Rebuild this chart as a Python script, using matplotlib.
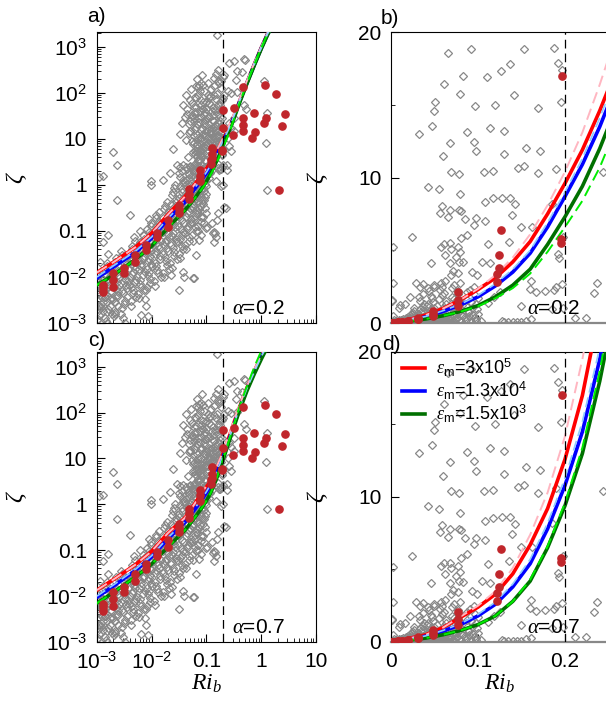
import numpy as np
import matplotlib
matplotlib.use('Agg')
import matplotlib.pyplot as plt
from matplotlib.ticker import FixedLocator, FixedFormatter, LogLocator, NullFormatter, MultipleLocator

plt.rcParams['font.family'] = ['Liberation Sans', 'DejaVu Sans']
plt.rcParams['mathtext.fontset'] = 'custom'
plt.rcParams['mathtext.rm'] = 'Liberation Sans'
plt.rcParams['mathtext.it'] = 'Liberation Serif:italic'
plt.rcParams['mathtext.bf'] = 'Liberation Sans:bold'

# ---------------- data ----------------
ri_crit = 0.2

# gray points seen in the linear panels (zeta 2..20)
lin_ri = [0.0655, 0.0923, 0.1525, 0.187, 0.1923, 0.197, 0.137, 0.127, 0.110, 0.0824,
          0.061, 0.0797, 0.141, 0.0506, 0.0494, 0.0962, 0.12, 0.1686, 0.1958, 0.0475,
          0.0322, 0.0877, 0.114, 0.130, 0.0682, 0.095, 0.0973, 0.060, 0.130, 0.155,
          0.171, 0.0693, 0.0785, 0.107, 0.117, 0.146, 0.153, 0.1686, 0.190,
          0.0425, 0.0548, 0.0793, 0.1077, 0.1176, 0.1276, 0.137, 0.142, 0.059, 0.068,
          0.078, 0.0808, 0.056, 0.0659, 0.0847, 0.0977, 0.1077, 0.139, 0.095, 0.150,
          0.162, 0.0874, 0.081, 0.024, 0.0605, 0.057, 0.0674, 0.077, 0.111, 0.136,
          0.002, 0.069, 0.0797, 0.075, 0.0624, 0.0456, 0.068, 0.078, 0.083, 0.105,
          0.114, 0.192, 0.193, 0.071, 0.077, 0.069, 0.0935, 0.099, 0.0617, 0.058,
          0.050, 0.0368, 0.029, 0.079, 0.0023, 0.161, 0.1966, 0.19, 0.237, 0.167,
          0.1767, 0.187, 0.233, 0.0011, 0.224, 0.145, 0.161]
lin_zeta = [18.56, 18.83, 18.8, 18.9, 17.9, 17.4, 17.8, 17.3, 16.9, 17.0,
            16.4, 15.76, 15.65, 15.19, 14.6, 14.9, 15.0, 14.8, 15.2, 13.56,
            13.0, 13.1, 13.4, 13.2, 12.4, 12.46, 11.8, 11.46, 11.6, 12.05,
            11.84, 10.4, 10.26, 10.4, 10.47, 10.67, 10.8, 10.3, 10.6,
            9.37, 9.2, 8.9, 8.34, 8.57, 8.6, 8.6, 8.16, 8.06, 7.8,
            7.76, 7.7, 7.58, 7.26, 7.17, 7.2, 7.03, 7.44, 6.74, 6.58,
            6.58, 6.05, 5.82, 5.9, 5.43, 5.24, 5.48, 5.24, 5.4, 5.59,
            5.2, 5.09, 4.86, 4.56, 4.67, 4.1, 4.1, 4.2, 4.17, 4.2,
            4.1, 4.74, 4.45, 3.57, 3.46, 3.3, 3.53, 3.3, 2.89, 2.73,
            2.6, 2.66, 2.73, 2.73, 2.73, 2.89, 2.68, 2.45, 2.73, 2.15,
            2.2, 2.27, 2.08, 1.5, 0.32, 0.09, 0.25]

# gray points seen only in the log panels (large zeta or Ri > 0.25)
hi_ri = [0.156, 0.262, 0.323, 0.475, 0.51, 0.368, 0.45, 0.347, 0.198, 0.212,
         0.185, 0.165, 0.244, 0.28, 0.212, 0.198, 0.36, 0.49, 0.53, 1.13,
         1.3, 1.22, 0.323, 0.262, 0.28, 0.323, 0.244, 0.262, 0.28, 0.185,
         0.198, 0.16, 0.149, 0.185, 0.074, 0.065, 0.08, 0.105, 0.113, 0.0427,
         0.0605, 0.065, 0.071, 0.058, 0.0605, 0.082, 0.057, 0.155, 0.212, 0.198,
         1.3, 0.14, 0.13, 0.15, 0.135, 0.098, 0.08, 0.074, 0.065, 0.06]
hi_zeta = [1853, 449, 489, 548, 520, 295, 282, 195, 219, 250,
           181, 184, 109, 100, 92, 78, 104, 55.7, 43.7, 181,
           36.7, 8.2, 28.6, 22.3, 17.4, 14.7, 10.4, 6.9, 5.4, 8.2,
           5.9, 2.34, 1.2, 0.93, 151, 77.8, 70, 92, 77.8, 91.9,
           80.7, 140, 132, 48.9, 38.6, 44.8, 31, 0.173, 0.34, 1.0,
           0.78, 0.097, 0.089, 0.075, 0.058, 0.114, 0.082, 0.063, 0.030, 0.0095]

mid_ri = [0.05, 0.055, 0.062, 0.07, 0.075, 0.085, 0.09, 0.1, 0.11, 0.12,
          0.13, 0.14, 0.15, 0.16, 0.17, 0.18, 0.19, 0.095, 0.105, 0.115,
          0.125, 0.135, 0.145, 0.155, 0.165, 0.175, 0.185, 0.088, 0.078, 0.068,
          0.045, 0.13, 0.15, 0.17, 0.19, 0.12, 0.1, 0.14, 0.16, 0.18,
          0.035, 0.04, 0.045, 0.05, 0.055, 0.06, 0.065, 0.07, 0.075, 0.08,
          0.085, 0.09, 0.095, 0.1, 0.038, 0.052, 0.068, 0.083, 0.058, 0.072,
          0.092, 0.105, 0.11, 0.125, 0.14, 0.16, 0.175, 0.195, 0.048, 0.078]
mid_zeta = [25, 60, 35, 28, 110, 45, 22, 65, 30, 120,
            48, 24, 75, 35, 160, 55, 28, 38, 160, 85,
            26, 210, 40, 95, 22, 65, 130, 150, 55, 21,
            35, 33, 260, 42, 70, 55, 27, 140, 320, 30,
            22, 30, 45, 70, 33, 24, 50, 90, 40, 30,
            65, 110, 26, 45, 55, 120, 200, 250, 28, 23,
            35, 28, 60, 40, 90, 55, 25, 40, 21, 160]

# isolated points around the cloud
out_ri = [0.0023, 0.004, 0.0016, 0.0013, 0.0016, 0.0015, 0.00113, 0.00105, 0.00113, 0.0014,
          0.0013, 0.00185, 0.001, 0.0015, 0.0021, 0.003, 0.0032, 0.0065, 0.0086, 0.008,
          0.0075, 0.037, 0.0397, 0.056, 0.032, 0.0228, 0.0013, 0.022, 0.016, 0.0099, 0.0096]
out_zeta = [0.47, 0.22, 0.082, 0.058, 0.031, 0.0199, 0.0215, 0.0044, 0.0023, 0.0037,
            0.0018, 0.0016, 0.00116, 0.001, 0.0016, 0.00126, 0.001, 0.0015, 0.0014, 0.0023,
            0.0034, 0.013, 0.0101, 0.0094, 0.0052, 0.011, 1.6, 1.82, 1.3, 1.24, 1.0]

# dense cloud along the curves
dense_ri = [0.00105, 0.0011, 0.0012, 0.00102, 0.00125, 0.0011, 0.0013, 0.00115, 0.00105, 0.0012,
            0.0014, 0.0016, 0.0015, 0.0017, 0.0014, 0.0018, 0.0016, 0.0015, 0.0017, 0.0014,
            0.0021, 0.0024, 0.002, 0.0023, 0.0022, 0.0025, 0.002, 0.0024, 0.0022, 0.0021,
            0.0029, 0.0033, 0.003, 0.0035, 0.0028, 0.0032, 0.0034, 0.003, 0.0033, 0.0029,
            0.0041, 0.0046, 0.0043, 0.0049, 0.004, 0.0045, 0.0048, 0.0042, 0.0047, 0.0044, 0.0049,
            0.0056, 0.0065, 0.006, 0.0068, 0.0058, 0.0063, 0.007, 0.0057, 0.0066, 0.0061, 0.0069,
            0.0082, 0.0095, 0.0088, 0.01, 0.0084, 0.0092, 0.0098, 0.0086, 0.009, 0.0096, 0.0083, 0.0099,
            0.0112, 0.013, 0.012, 0.014, 0.0115, 0.0135, 0.0125, 0.011, 0.0138, 0.0118, 0.0132, 0.0122,
            0.016, 0.019, 0.0175, 0.02, 0.0165, 0.0185, 0.0195, 0.017, 0.0188, 0.0162, 0.0198, 0.0178,
            0.022, 0.026, 0.024, 0.028, 0.023, 0.027, 0.025, 0.0225, 0.0265, 0.0245, 0.028, 0.023, 0.026,
            0.031, 0.036, 0.033, 0.038, 0.03, 0.035, 0.032, 0.037, 0.034, 0.031, 0.036, 0.033, 0.038, 0.032,
            0.041, 0.047, 0.044, 0.05, 0.042, 0.048, 0.045, 0.049, 0.043, 0.046, 0.05, 0.042, 0.047, 0.044,
            0.054, 0.062, 0.058, 0.065, 0.055, 0.06, 0.064, 0.057, 0.061, 0.053, 0.063, 0.059, 0.056,
            0.07, 0.078, 0.074, 0.069, 0.08, 0.072, 0.076, 0.071, 0.079, 0.073, 0.077, 0.07,
            0.086, 0.095, 0.09, 0.1, 0.088, 0.093, 0.098, 0.087, 0.096, 0.091,
            0.112, 0.125, 0.118, 0.104, 0.128]
dense_zeta = [0.0012, 0.0019, 0.0026, 0.0031, 0.0036, 0.0045, 0.0052, 0.0065, 0.008, 0.0098,
              0.0013, 0.002, 0.0028, 0.0033, 0.0042, 0.005, 0.0062, 0.0078, 0.0105, 0.014,
              0.0017, 0.0024, 0.0033, 0.0041, 0.0056, 0.0068, 0.0085, 0.011, 0.015, 0.021,
              0.0021, 0.003, 0.0044, 0.0058, 0.0075, 0.0092, 0.012, 0.016, 0.022, 0.03,
              0.003, 0.0044, 0.006, 0.0078, 0.01, 0.013, 0.017, 0.022, 0.029, 0.04, 0.06,
              0.0042, 0.006, 0.0085, 0.011, 0.015, 0.019, 0.025, 0.032, 0.043, 0.058, 0.08,
              0.006, 0.009, 0.013, 0.017, 0.022, 0.029, 0.037, 0.048, 0.062, 0.082, 0.11, 0.15,
              0.008, 0.012, 0.017, 0.024, 0.032, 0.042, 0.055, 0.07, 0.09, 0.12, 0.16, 0.22,
              0.012, 0.018, 0.027, 0.037, 0.05, 0.065, 0.085, 0.11, 0.14, 0.19, 0.26, 0.35,
              0.02, 0.029, 0.042, 0.058, 0.078, 0.1, 0.14, 0.18, 0.24, 0.32, 0.43, 0.6, 0.85,
              0.032, 0.048, 0.068, 0.095, 0.13, 0.17, 0.23, 0.3, 0.4, 0.52, 0.7, 0.95, 1.3, 1.8,
              0.05, 0.075, 0.11, 0.15, 0.2, 0.27, 0.35, 0.46, 0.6, 0.78, 1.0, 1.3, 1.7, 2.2,
              0.08, 0.12, 0.18, 0.25, 0.34, 0.45, 0.58, 0.75, 0.95, 1.2, 1.5, 1.9, 2.3,
              0.13, 0.2, 0.3, 0.42, 0.55, 0.7, 0.9, 1.1, 1.35, 1.65, 2.0, 2.4,
              0.2, 0.32, 0.48, 0.65, 0.85, 1.05, 1.3, 1.55, 1.9, 2.3,
              1.4, 2.1, 1.8, 0.12, 0.15]

# second pass over the cloud (points between the first ones)
dense2_ri = [0.00108, 0.00118, 0.00128, 0.00112, 0.00122, 0.00101, 0.00127, 0.00109, 0.00119, 0.00103,
             0.00145, 0.00155, 0.00175, 0.00185, 0.00148, 0.00168, 0.00158, 0.00182, 0.00152, 0.00172,
             0.00205, 0.00215, 0.00235, 0.00245, 0.00208, 0.00228, 0.00255, 0.00212, 0.00238, 0.00225,
             0.00275, 0.0031, 0.0036, 0.00285, 0.0034, 0.0037, 0.0031, 0.0027, 0.0036, 0.0032, 0.0028,
             0.0042, 0.0051, 0.0045, 0.0039, 0.0052, 0.0044, 0.005, 0.0041, 0.0046, 0.0052, 0.0043, 0.0048,
             0.0059, 0.0072, 0.0062, 0.0055, 0.0074, 0.0064, 0.0058, 0.0071, 0.0067, 0.0056, 0.0073, 0.006,
             0.0079, 0.0094, 0.0087, 0.0081, 0.0097, 0.0089, 0.0083, 0.0093, 0.01, 0.0085, 0.0091, 0.0097, 0.0088,
             0.0117, 0.0145, 0.0127, 0.0113, 0.0142, 0.0121, 0.0133, 0.0148, 0.0116, 0.0128, 0.0141, 0.0119, 0.0136,
             0.0168, 0.0205, 0.0182, 0.0158, 0.0192, 0.0172, 0.0203, 0.0163, 0.0187, 0.0176, 0.0201, 0.0167, 0.019,
             0.0235, 0.0285, 0.0255, 0.0222, 0.0272, 0.0242, 0.0262, 0.0232, 0.0282, 0.0252, 0.0228, 0.0275, 0.0248, 0.0268,
             0.0325, 0.0375, 0.0305, 0.0355, 0.0338, 0.0392, 0.0318, 0.0362, 0.0345, 0.0385, 0.0312, 0.0352,
             0.0372, 0.0335, 0.0365, 0.0328,
             0.0425, 0.0485, 0.0405, 0.0455, 0.0515, 0.0435, 0.0495, 0.0418, 0.0475, 0.0505, 0.0445, 0.0412,
             0.0488, 0.0458, 0.0428, 0.0498,
             0.0565, 0.0645, 0.0535, 0.0605, 0.0668, 0.0575, 0.0625, 0.0545, 0.0655, 0.0595, 0.0638, 0.0552,
             0.0615, 0.0585,
             0.0715, 0.0805, 0.0688, 0.0755, 0.0825, 0.0735, 0.0785, 0.0695, 0.0815, 0.0745, 0.0698, 0.0775, 0.0725,
             0.0915, 0.0975, 0.0855, 0.0945, 0.0895, 0.0985, 0.0865, 0.0925, 0.0995, 0.0875, 0.0955]
dense2_zeta = [0.0015, 0.0022, 0.0029, 0.004, 0.0058, 0.0072, 0.0088, 0.011, 0.0135, 0.0024,
               0.0011, 0.0017, 0.0024, 0.0035, 0.0055, 0.0068, 0.009, 0.012, 0.017, 0.0145,
               0.0014, 0.0029, 0.0037, 0.0048, 0.0062, 0.0078, 0.0095, 0.013, 0.018, 0.026,
               0.0016, 0.0026, 0.0037, 0.005, 0.0066, 0.0083, 0.011, 0.014, 0.019, 0.026, 0.036,
               0.0024, 0.0037, 0.0052, 0.0068, 0.0088, 0.0115, 0.015, 0.0195, 0.025, 0.034, 0.048, 0.075,
               0.0035, 0.0052, 0.0072, 0.0098, 0.013, 0.017, 0.022, 0.028, 0.037, 0.05, 0.068, 0.1,
               0.0052, 0.0075, 0.011, 0.015, 0.019, 0.025, 0.033, 0.042, 0.055, 0.072, 0.095, 0.13, 0.18,
               0.0065, 0.01, 0.014, 0.02, 0.028, 0.037, 0.048, 0.062, 0.08, 0.105, 0.14, 0.19, 0.26,
               0.01, 0.015, 0.022, 0.032, 0.043, 0.057, 0.075, 0.097, 0.125, 0.165, 0.22, 0.3, 0.42,
               0.016, 0.024, 0.035, 0.05, 0.068, 0.09, 0.12, 0.16, 0.21, 0.28, 0.38, 0.5, 0.7, 1.0,
               0.026, 0.04, 0.058, 0.08, 0.11, 0.15, 0.2, 0.26, 0.35, 0.46, 0.62, 0.82,
               1.1, 1.5, 2.0, 2.5,
               0.04, 0.06, 0.09, 0.13, 0.18, 0.24, 0.31, 0.4, 0.52, 0.68, 0.88, 1.15,
               1.45, 1.85, 2.4, 2.5,
               0.06, 0.1, 0.15, 0.21, 0.29, 0.38, 0.5, 0.65, 0.82, 1.05, 1.3, 1.65,
               2.05, 2.5,
               0.1, 0.16, 0.24, 0.35, 0.48, 0.62, 0.8, 1.0, 1.25, 1.5, 1.8, 2.2, 2.6,
               0.15, 0.25, 0.38, 0.55, 0.75, 0.95, 1.2, 1.45, 1.75, 2.1, 2.5]

# red dots (binned means)
red_ri = [0.0013, 0.0013, 0.0013, 0.002, 0.002, 0.002, 0.0031, 0.0031, 0.0049, 0.0049,
          0.0078, 0.0078, 0.0123, 0.0123, 0.0195, 0.0195, 0.031, 0.031, 0.031, 0.048,
          0.048, 0.048, 0.077, 0.077, 0.077, 0.122, 0.122, 0.124, 0.124, 0.126,
          0.195, 0.195, 0.197, 0.2, 0.3, 0.32, 0.47, 0.47, 0.47, 0.47,
          0.68, 0.75, 0.78, 1.13, 1.18, 1.23, 1.87, 2.15, 2.4, 2.7]
red_zeta = [0.0047, 0.0058, 0.0068, 0.006, 0.0085, 0.012, 0.0125, 0.0157, 0.021, 0.03,
            0.039, 0.05, 0.074, 0.09, 0.12, 0.17, 0.25, 0.3, 0.37, 0.5,
            0.65, 0.8, 1.2, 1.6, 2.1, 2.8, 3.4, 3.8, 4.7, 6.4,
            5.5, 5.8, 17, 42.7, 12.2, 47, 135, 28.6, 19.9, 14.8,
            10.5, 36.7, 14, 22, 148, 28.6, 95, 0.78, 19, 35]

# model curves
curve_ri = [0.001, 0.002, 0.005, 0.01, 0.02, 0.04, 0.06, 0.08, 0.1, 0.12, 0.14, 0.16,
            0.18, 0.2, 0.22, 0.24, 0.26, 0.3, 0.4, 0.55, 0.75, 1.0, 1.3, 1.7]

# alpha = 0.2
red_a = [0.0125, 0.021, 0.044, 0.09, 0.23, 0.55, 1.0, 1.6, 2.3, 3.1, 4.2, 5.6, 7.5, 9.6, 11.9, 14.6, 17.6, 26, 65, 170, 420, 950, 1900, 3500]
pink_a = [0.0125, 0.021, 0.044, 0.09, 0.23, 0.55, 1.0, 1.6, 2.35, 3.3, 4.5, 6.1, 8.1, 10.4, 13.1, 16.4, 20, 30, 72, 185, 450, 1000, 2000, 3600]
blue_a = [0.0095, 0.0165, 0.034, 0.07, 0.18, 0.42, 0.8, 1.25, 1.8, 2.55, 3.5, 4.8, 6.6, 8.7, 10.9, 13.5, 16.5, 25, 63, 165, 410, 930, 1850, 3400]
lblue_a = [0.010, 0.0175, 0.036, 0.074, 0.19, 0.45, 0.85, 1.3, 1.9, 2.7, 3.7, 5.0, 6.9, 9.0, 11.3, 14.1, 17.2, 26, 65, 170, 420, 950, 1900, 3500]
green_a = [0.0067, 0.011, 0.024, 0.047, 0.12, 0.28, 0.5, 0.8, 1.2, 1.8, 2.6, 3.7, 5.4, 7.3, 9.4, 12.0, 15.0, 23, 60, 160, 400, 900, 1800, 3300]
lime_a = [0.0067, 0.011, 0.024, 0.047, 0.12, 0.28, 0.5, 0.78, 1.15, 1.7, 2.4, 3.4, 4.9, 6.6, 8.4, 10.7, 13.6, 22, 60, 165, 420, 950, 1900, 3500]

# alpha = 0.7
red_c = [0.0135, 0.023, 0.048, 0.095, 0.24, 0.5, 1.0, 1.7, 2.4, 3.3, 4.7, 6.7, 9.2, 12.6, 17.0, 23, 30, 50, 130, 350, 800, 1700, 3000, 5000]
pink_c = [0.0135, 0.023, 0.048, 0.095, 0.24, 0.5, 1.0, 1.75, 2.5, 3.5, 5.1, 7.4, 10.3, 14.2, 19.5, 26, 34, 56, 145, 380, 880, 1800, 3200, 5500]
blue_c = [0.0095, 0.0165, 0.036, 0.072, 0.18, 0.4, 0.75, 1.2, 1.8, 2.6, 3.8, 5.4, 7.8, 10.8, 14.5, 19.5, 26, 44, 120, 330, 760, 1600, 2900, 5000]
lblue_c = [0.010, 0.0175, 0.038, 0.076, 0.19, 0.42, 0.8, 1.27, 1.9, 2.75, 4.0, 5.7, 8.2, 11.3, 15.2, 20.3, 27, 46, 125, 340, 780, 1650, 3000, 5100]
green_c = [0.007, 0.012, 0.026, 0.05, 0.12, 0.27, 0.5, 0.8, 1.2, 1.8, 2.8, 4.2, 6.5, 9.4, 13.0, 18.0, 24, 40, 110, 300, 700, 1450, 2700, 4800]
lime_c = [0.007, 0.012, 0.026, 0.05, 0.12, 0.27, 0.5, 0.8, 1.2, 1.8, 2.8, 4.3, 6.6, 9.6, 13.4, 18.7, 25.5, 45, 135, 380, 1000, 2200, 3800, 6000]

legend_labels = [r'$\varepsilon_{\rm m}$=3x10$^5$',
                 r'$\varepsilon_{\rm m}$=1.3x10$^4$',
                 r'$\varepsilon_{\rm m}$=1.5x10$^3$']

log_ticks = [1e-3, 1e-2, 1e-1, 1, 10, 100, 1000]
log_labels = [r'10$^{-3}$', r'10$^{-2}$', '0.1', '1', '10', r'10$^{2}$', r'10$^{3}$']

gray_ri = lin_ri + hi_ri + mid_ri + out_ri + dense_ri + dense2_ri
gray_zeta = lin_zeta + hi_zeta + mid_zeta + out_zeta + dense_zeta + dense2_zeta

FS = 15


def draw_panel(ax, logscale, curves, alpha_txt, show_x):
    # data points
    ax.plot(gray_ri, gray_zeta, 'D', ms=3.7, mfc='none', mec='#888888', mew=0.9, zorder=2)

    # model curves: thick solid, thin dashed partner
    solids = [(curves[0], '#ff0000'), (curves[2], '#0000ff'), (curves[4], '#007000')]
    for (vals, col), lab in zip(solids, legend_labels):
        ax.plot(curve_ri, vals, '-', color=col, lw=2.6, label=lab, zorder=3)
    ax.plot(curve_ri, curves[1], '--', color='#ffb6c1', lw=1.4, dashes=(6, 3), zorder=4)
    ax.plot(curve_ri, curves[3], '--', color='#8ecbff', lw=1.2, dashes=(6, 3), zorder=4)
    ax.plot(curve_ri, curves[5], '--', color='#00ee00', lw=1.4, dashes=(6, 3), zorder=4)

    ax.plot(red_ri, red_zeta, 'o', ms=5.2, color='#c0262b', mec='#c0262b', zorder=5)

    ax.axvline(ri_crit, color='k', lw=0.9, dashes=(7, 4), zorder=4)

    ax.tick_params(which='both', direction='in', top=False, right=False,
                   labelsize=FS, pad=7)
    ax.tick_params(which='major', length=6)
    ax.tick_params(which='minor', length=3)

    if logscale:
        ax.set_xscale('log')
        ax.set_yscale('log')
        ax.set_xlim(1e-3, 10)
        ax.set_ylim(1e-3, 2100)
        ax.yaxis.set_major_locator(FixedLocator(log_ticks))
        ax.yaxis.set_major_formatter(FixedFormatter(log_labels))
        ax.xaxis.set_major_locator(FixedLocator(log_ticks[:5]))
        ax.xaxis.set_major_formatter(FixedFormatter(log_labels[:5]))
        for axis in (ax.xaxis, ax.yaxis):
            axis.set_minor_locator(LogLocator(base=10, subs=np.arange(2, 10), numticks=50))
            axis.set_minor_formatter(NullFormatter())
        ax.yaxis.set_label_coords(-0.31, 0.5)
        ax.xaxis.set_label_coords(0.5, -0.105)
        ax.text(0.615, 0.05, alpha_txt, transform=ax.transAxes, fontsize=FS,
                va='center', ha='left', zorder=6)
    else:
        ax.set_xlim(0, 0.25)
        ax.set_ylim(0, 20)
        ax.yaxis.set_major_locator(FixedLocator([0, 10, 20]))
        ax.yaxis.set_minor_locator(MultipleLocator(5))
        ax.xaxis.set_major_locator(FixedLocator([0, 0.1, 0.2]))
        ax.xaxis.set_major_formatter(FixedFormatter(['0', '0.1', '0.2']))
        ax.spines['bottom'].set_color('#888888')
        ax.spines['bottom'].set_linewidth(1.6)
        ax.yaxis.set_label_coords(-0.28, 0.5)
        ax.xaxis.set_label_coords(0.42, -0.105)
        ax.text(0.625, 0.05, alpha_txt, transform=ax.transAxes, fontsize=FS,
                va='center', ha='left', zorder=6)

    ax.set_ylabel(r'$\zeta$', fontsize=FS + 2)
    if show_x:
        ax.set_xlabel(r'$Ri_b$', fontsize=FS + 2)
    else:
        ax.tick_params(labelbottom=False)


fig = plt.figure(figsize=(6.06, 7.01), dpi=100)

ax_a = fig.add_axes([0.160, 0.5392, 0.3614, 0.4151])
ax_b = fig.add_axes([0.6452, 0.5392, 0.3589, 0.4151])
ax_c = fig.add_axes([0.160, 0.0842, 0.3614, 0.4137])
ax_d = fig.add_axes([0.6452, 0.0842, 0.3589, 0.4137])

curves_a = [red_a, pink_a, blue_a, lblue_a, green_a, lime_a]
curves_c = [red_c, pink_c, blue_c, lblue_c, green_c, lime_c]

draw_panel(ax_a, True, curves_a, r'$\alpha$=0.2', False)
draw_panel(ax_b, False, curves_a, r'$\alpha$=0.2', False)
draw_panel(ax_c, True, curves_c, r'$\alpha$=0.7', True)
draw_panel(ax_d, False, curves_c, r'$\alpha$=0.7', True)

leg = ax_d.legend(loc='upper left', bbox_to_anchor=(0.0, 1.02), frameon=False,
                  fontsize=13, handlelength=1.3, handletextpad=0.6, labelspacing=0.05,
                  borderaxespad=0.2)
for line in leg.get_lines():
    line.set_linewidth(2.6)

# panel letters
fig.text(87 / 606, 1 - 17 / 701, 'a)', fontsize=FS, va='center', ha='left')
fig.text(381 / 606, 1 - 19 / 701, 'b)', fontsize=FS, va='center', ha='left')
fig.text(88 / 606, 1 - 341 / 701, 'c)', fontsize=FS, va='center', ha='left')
fig.text(382 / 606, 1 - 345 / 701, 'd)', fontsize=FS, va='center', ha='left')

fig.savefig('out.png', dpi=100)
